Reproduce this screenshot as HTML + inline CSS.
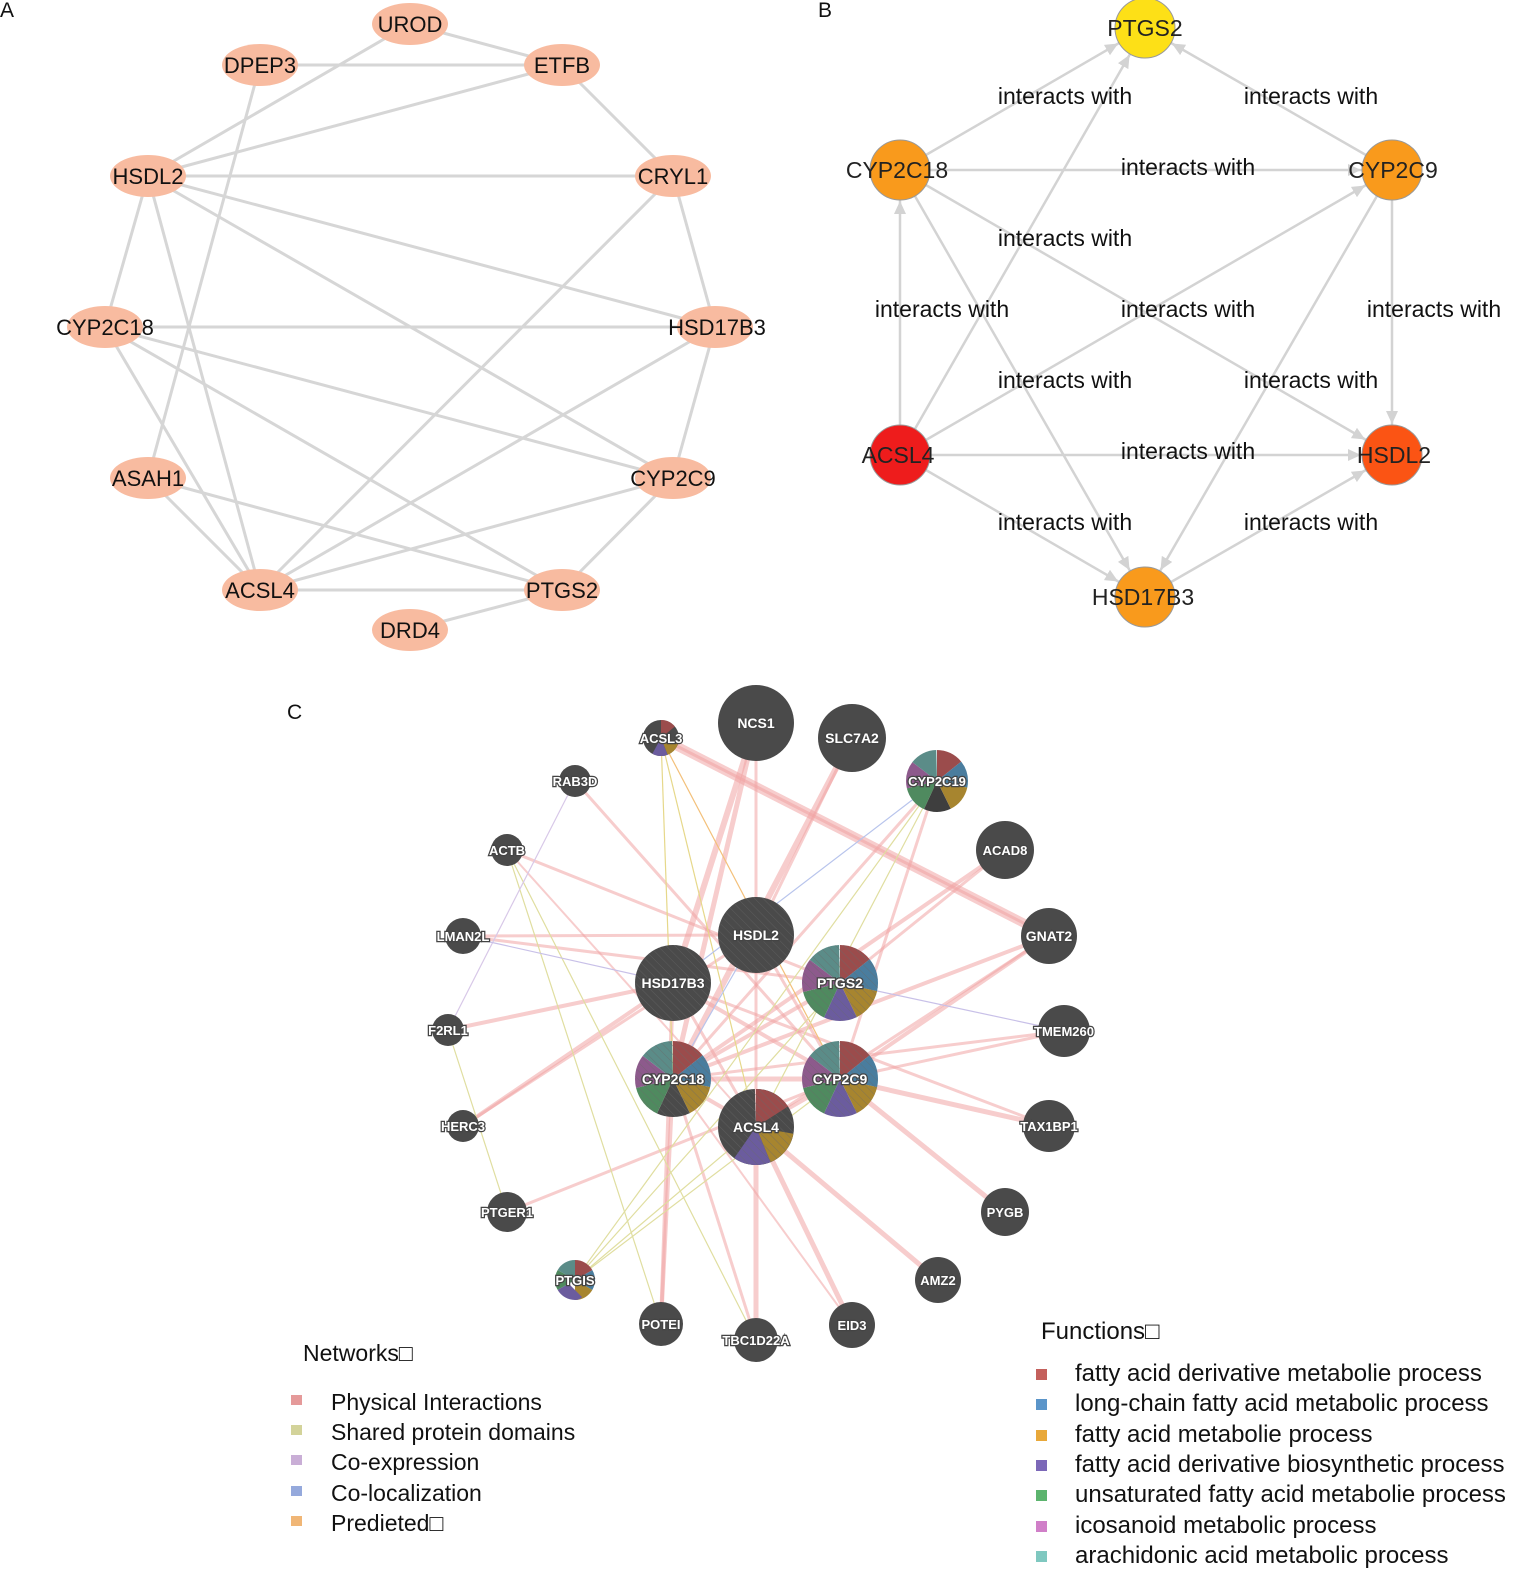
<!DOCTYPE html>
<html><head><meta charset="utf-8"><style>
html,body{margin:0;padding:0;background:#fff;}
svg{display:block;font-family:"Liberation Sans",Arial,sans-serif;}
.a text{font-size:22px;fill:#111;text-anchor:middle;}
.bl{font-size:23px;fill:#111;text-anchor:middle;}
.bn{font-size:23px;fill:#222;text-anchor:middle;}
.cn{font-size:13px;fill:#fff;text-anchor:middle;font-weight:bold;stroke:#444;stroke-width:2.5px;paint-order:stroke;}
.lg{font-size:23px;fill:#111;}
.fg{font-size:24px;fill:#111;}
</style></head><body>
<svg width="1535" height="1572" viewBox="0 0 1535 1572" xmlns="http://www.w3.org/2000/svg">
<defs>
<marker id="ar" markerUnits="userSpaceOnUse" markerWidth="60" markerHeight="14" refX="44" refY="6" orient="auto">
<path d="M0,0 L13,6 L0,12 z" fill="#d3d3d3"/></marker>
<pattern id="hat" width="6" height="6" patternUnits="userSpaceOnUse" patternTransform="rotate(-45)">
<line x1="0" y1="0" x2="0" y2="6" stroke="#6a6a6a" stroke-width="1"/></pattern>
</defs>
<rect width="1535" height="1572" fill="#fff"/>

<!-- PANEL A -->
<text x="0" y="17" font-size="21" fill="#111">A</text>
<g stroke="#d6d6d6" stroke-width="3">
<line x1="410" y1="24" x2="562" y2="65"/>
<line x1="410" y1="24" x2="148" y2="176"/>
<line x1="260" y1="65" x2="562" y2="65"/>
<line x1="260" y1="65" x2="148" y2="478"/>
<line x1="562" y1="65" x2="148" y2="176"/>
<line x1="562" y1="65" x2="673" y2="176"/>
<line x1="148" y1="176" x2="673" y2="176"/>
<line x1="148" y1="176" x2="715" y2="327"/>
<line x1="148" y1="176" x2="673" y2="478"/>
<line x1="148" y1="176" x2="105" y2="327"/>
<line x1="148" y1="176" x2="260" y2="590"/>
<line x1="673" y1="176" x2="715" y2="327"/>
<line x1="673" y1="176" x2="260" y2="590"/>
<line x1="105" y1="327" x2="715" y2="327"/>
<line x1="105" y1="327" x2="673" y2="478"/>
<line x1="105" y1="327" x2="562" y2="590"/>
<line x1="105" y1="327" x2="260" y2="590"/>
<line x1="715" y1="327" x2="673" y2="478"/>
<line x1="715" y1="327" x2="260" y2="590"/>
<line x1="148" y1="478" x2="260" y2="590"/>
<line x1="148" y1="478" x2="562" y2="590"/>
<line x1="673" y1="478" x2="260" y2="590"/>
<line x1="673" y1="478" x2="562" y2="590"/>
<line x1="260" y1="590" x2="562" y2="590"/>
<line x1="562" y1="590" x2="410" y2="630"/>
</g>
<g fill="#f8bba0">
<ellipse cx="410" cy="24" rx="38" ry="21"/><ellipse cx="260" cy="65" rx="38" ry="21"/>
<ellipse cx="562" cy="65" rx="38" ry="21"/><ellipse cx="148" cy="176" rx="38" ry="21"/>
<ellipse cx="673" cy="176" rx="38" ry="21"/><ellipse cx="105" cy="327" rx="38" ry="21"/>
<ellipse cx="715" cy="327" rx="38" ry="21"/><ellipse cx="148" cy="478" rx="38" ry="21"/>
<ellipse cx="673" cy="478" rx="38" ry="21"/><ellipse cx="260" cy="590" rx="38" ry="21"/>
<ellipse cx="562" cy="590" rx="38" ry="21"/><ellipse cx="410" cy="630" rx="38" ry="21"/>
</g>
<g class="a">
<text x="410" y="32">UROD</text><text x="260" y="73">DPEP3</text><text x="562" y="73">ETFB</text>
<text x="148" y="184">HSDL2</text><text x="673" y="184">CRYL1</text><text x="105" y="335">CYP2C18</text>
<text x="717" y="335">HSD17B3</text><text x="148" y="486">ASAH1</text><text x="673" y="486">CYP2C9</text>
<text x="260" y="598">ACSL4</text><text x="562" y="598">PTGS2</text><text x="410" y="638">DRD4</text>
</g>

<!-- PANEL B -->
<text x="818" y="17" font-size="21" fill="#111">B</text>
<g stroke="#d3d3d3" stroke-width="2.5" marker-end="url(#ar)">
<line x1="900" y1="170" x2="1145" y2="28"/>
<line x1="900" y1="455" x2="1145" y2="28"/>
<line x1="1392" y1="170" x2="1145" y2="28"/>
<line x1="900" y1="170" x2="1392" y2="170"/>
<line x1="900" y1="170" x2="1392" y2="455"/>
<line x1="900" y1="170" x2="1145" y2="597"/>
<line x1="900" y1="455" x2="900" y2="170"/>
<line x1="900" y1="455" x2="1392" y2="170"/>
<line x1="900" y1="455" x2="1392" y2="455"/>
<line x1="900" y1="455" x2="1145" y2="597"/>
<line x1="1392" y1="170" x2="1392" y2="455"/>
<line x1="1392" y1="170" x2="1145" y2="597"/>
<line x1="1145" y1="597" x2="1392" y2="455"/>
</g>
<g class="bl">
<text x="1065" y="104">interacts with</text><text x="1311" y="104">interacts with</text>
<text x="1188" y="175">interacts with</text><text x="1065" y="246">interacts with</text>
<text x="942" y="317">interacts with</text><text x="1188" y="317">interacts with</text>
<text x="1434" y="317">interacts with</text><text x="1065" y="388">interacts with</text>
<text x="1311" y="388">interacts with</text><text x="1188" y="459">interacts with</text>
<text x="1065" y="530">interacts with</text><text x="1311" y="530">interacts with</text>
</g>
<g stroke="#999" stroke-width="1">
<circle cx="1145" cy="28" r="30" fill="#fde017"/>
<circle cx="900" cy="170" r="30" fill="#f99a1c"/>
<circle cx="1392" cy="170" r="30" fill="#f99a1c"/>
<circle cx="900" cy="455" r="30" fill="#ee1c1c"/>
<circle cx="1392" cy="455" r="30" fill="#fb5414"/>
<circle cx="1145" cy="597" r="30" fill="#f99a1c"/>
</g>
<g class="bn">
<text x="1145" y="36">PTGS2</text><text x="897" y="178">CYP2C18</text><text x="1393" y="178">CYP2C9</text>
<text x="898" y="463">ACSL4</text><text x="1394" y="463">HSDL2</text><text x="1143" y="605">HSD17B3</text>
</g>

<!-- PANEL C -->
<text x="287" y="719" font-size="21" fill="#111">C</text>
<!-- edges -->
<g stroke="#f0a4a4" stroke-opacity="0.55" fill="none">
<line x1="661" y1="738" x2="1049" y2="936" stroke-width="9"/>
<line x1="661" y1="738" x2="1049" y2="936" stroke-width="3"/>
<line x1="756" y1="723" x2="673" y2="983" stroke-width="6"/>
<line x1="756" y1="723" x2="673" y2="1079" stroke-width="5"/>
<line x1="756" y1="723" x2="756" y2="1127" stroke-width="3"/>
<line x1="852" y1="738" x2="673" y2="1079" stroke-width="6"/>
<line x1="852" y1="738" x2="756" y2="935" stroke-width="3"/>
<line x1="1005" y1="850" x2="673" y2="1079" stroke-width="4"/>
<line x1="1005" y1="850" x2="840" y2="983" stroke-width="3"/>
<line x1="1049" y1="936" x2="673" y2="1079" stroke-width="4"/>
<line x1="1049" y1="936" x2="840" y2="1079" stroke-width="4"/>
<line x1="1049" y1="936" x2="756" y2="1127" stroke-width="3"/>
<line x1="575" y1="781" x2="840" y2="1079" stroke-width="3"/>
<line x1="507" y1="850" x2="840" y2="983" stroke-width="3"/>
<line x1="507" y1="850" x2="756" y2="1127" stroke-width="2"/>
<line x1="463" y1="936" x2="756" y2="935" stroke-width="3"/>
<line x1="463" y1="936" x2="840" y2="983" stroke-width="3"/>
<line x1="448" y1="1030" x2="673" y2="983" stroke-width="4"/>
<line x1="463" y1="1126" x2="673" y2="983" stroke-width="4"/>
<line x1="463" y1="1126" x2="756" y2="935" stroke-width="3"/>
<line x1="507" y1="1212" x2="840" y2="1079" stroke-width="3"/>
<line x1="661" y1="1324" x2="673" y2="983" stroke-width="4"/>
<line x1="661" y1="1324" x2="673" y2="1079" stroke-width="4"/>
<line x1="756" y1="1340" x2="756" y2="1127" stroke-width="5"/>
<line x1="756" y1="1340" x2="673" y2="1079" stroke-width="3"/>
<line x1="852" y1="1325" x2="756" y2="1127" stroke-width="5"/>
<line x1="852" y1="1325" x2="673" y2="1079" stroke-width="2"/>
<line x1="938" y1="1280" x2="756" y2="1127" stroke-width="5"/>
<line x1="1005" y1="1212" x2="840" y2="1079" stroke-width="5"/>
<line x1="1049" y1="1126" x2="840" y2="1079" stroke-width="5"/>
<line x1="1049" y1="1126" x2="673" y2="983" stroke-width="3"/>
<line x1="1064" y1="1031" x2="673" y2="1079" stroke-width="3"/>
<line x1="1064" y1="1031" x2="840" y2="1079" stroke-width="3"/>
<line x1="673" y1="983" x2="840" y2="1079" stroke-width="4"/>
<line x1="673" y1="1079" x2="840" y2="1079" stroke-width="5"/>
<line x1="673" y1="1079" x2="840" y2="983" stroke-width="4"/>
<line x1="673" y1="983" x2="756" y2="1127" stroke-width="3"/>
<line x1="756" y1="935" x2="840" y2="1079" stroke-width="3"/>
<line x1="673" y1="1079" x2="756" y2="1127" stroke-width="4"/>
<line x1="840" y1="1079" x2="756" y2="1127" stroke-width="4"/>
<line x1="937" y1="781" x2="673" y2="1079" stroke-width="3"/>
<line x1="937" y1="781" x2="840" y2="1079" stroke-width="3"/>
</g>
<g stroke-width="1.2" fill="none">
<line x1="661" y1="738" x2="756" y2="1127" stroke="#e6d88a"/>
<line x1="661" y1="738" x2="673" y2="1079" stroke="#e6d88a"/>
<line x1="661" y1="738" x2="840" y2="1079" stroke="#f3c07a"/>
<line x1="507" y1="850" x2="661" y2="1324" stroke="#e0dea0"/>
<line x1="507" y1="850" x2="756" y2="1340" stroke="#e0dea0"/>
<line x1="575" y1="781" x2="448" y2="1030" stroke="#d8c8e8"/>
<line x1="448" y1="1030" x2="507" y2="1212" stroke="#e0dea0"/>
<line x1="575" y1="1280" x2="937" y2="781" stroke="#e0dea0"/>
<line x1="575" y1="1280" x2="840" y2="1079" stroke="#e0dea0"/>
<line x1="575" y1="1280" x2="840" y2="983" stroke="#e0dea0"/>
<line x1="575" y1="1280" x2="756" y2="1127" stroke="#e0dea0"/>
<line x1="937" y1="781" x2="673" y2="983" stroke="#b8c4ec"/>
<line x1="937" y1="781" x2="756" y2="1127" stroke="#e0dea0"/>
<line x1="1064" y1="1031" x2="840" y2="983" stroke="#c8c0e8"/>
<line x1="463" y1="936" x2="673" y2="983" stroke="#c8c0e8"/>
<line x1="756" y1="935" x2="673" y2="1079" stroke="#b8c4ec"/>
</g>
<!-- nodes -->
<g fill="#4a4a4a">
<circle cx="756" cy="723" r="38"/><circle cx="852" cy="738" r="34"/>
<circle cx="575" cy="781" r="16"/><circle cx="507" cy="850" r="16"/>
<circle cx="1005" cy="850" r="29"/><circle cx="463" cy="936" r="18"/>
<circle cx="1049" cy="936" r="28"/><circle cx="448" cy="1030" r="16"/>
<circle cx="1064" cy="1031" r="26"/><circle cx="463" cy="1126" r="16"/>
<circle cx="1049" cy="1126" r="26"/><circle cx="507" cy="1212" r="20"/>
<circle cx="1005" cy="1212" r="24"/><circle cx="938" cy="1280" r="23"/>
<circle cx="661" cy="1324" r="22"/><circle cx="756" cy="1340" r="22"/>
<circle cx="852" cy="1325" r="23"/>
<circle cx="756" cy="935" r="38"/><circle cx="673" cy="983" r="38"/>
</g>
<!-- pies: circle r=R/2, stroke-width=R, pathLength 100 -->
<!-- PTGS2 -->
<g transform="translate(840,983) rotate(-90)" fill="none" stroke-width="38">
<circle r="19" pathLength="100" stroke="#9b4c4c" stroke-dasharray="14.3 100" stroke-dashoffset="0"/>
<circle r="19" pathLength="100" stroke="#4a7d9e" stroke-dasharray="14.3 100" stroke-dashoffset="-14.3"/>
<circle r="19" pathLength="100" stroke="#a7852f" stroke-dasharray="14.3 100" stroke-dashoffset="-28.6"/>
<circle r="19" pathLength="100" stroke="#6b5c9e" stroke-dasharray="14.3 100" stroke-dashoffset="-42.9"/>
<circle r="19" pathLength="100" stroke="#4f8a5f" stroke-dasharray="14.3 100" stroke-dashoffset="-57.2"/>
<circle r="19" pathLength="100" stroke="#8d5a8c" stroke-dasharray="14.3 100" stroke-dashoffset="-71.5"/>
<circle r="19" pathLength="100" stroke="#5b8c88" stroke-dasharray="14.3 100" stroke-dashoffset="-85.8"/>
</g>
<!-- CYP2C9 -->
<g transform="translate(840,1079) rotate(-90)" fill="none" stroke-width="38">
<circle r="19" pathLength="100" stroke="#9b4c4c" stroke-dasharray="14.3 100" stroke-dashoffset="0"/>
<circle r="19" pathLength="100" stroke="#4a7d9e" stroke-dasharray="14.3 100" stroke-dashoffset="-14.3"/>
<circle r="19" pathLength="100" stroke="#a7852f" stroke-dasharray="14.3 100" stroke-dashoffset="-28.6"/>
<circle r="19" pathLength="100" stroke="#6b5c9e" stroke-dasharray="14.3 100" stroke-dashoffset="-42.9"/>
<circle r="19" pathLength="100" stroke="#4f8a5f" stroke-dasharray="14.3 100" stroke-dashoffset="-57.2"/>
<circle r="19" pathLength="100" stroke="#8d5a8c" stroke-dasharray="14.3 100" stroke-dashoffset="-71.5"/>
<circle r="19" pathLength="100" stroke="#5b8c88" stroke-dasharray="14.3 100" stroke-dashoffset="-85.8"/>
</g>
<!-- CYP2C18 -->
<g transform="translate(673,1079) rotate(-90)" fill="none" stroke-width="38">
<circle r="19" pathLength="100" stroke="#9b4c4c" stroke-dasharray="14.3 100" stroke-dashoffset="0"/>
<circle r="19" pathLength="100" stroke="#4a7d9e" stroke-dasharray="14.3 100" stroke-dashoffset="-14.3"/>
<circle r="19" pathLength="100" stroke="#a7852f" stroke-dasharray="14.3 100" stroke-dashoffset="-28.6"/>
<circle r="19" pathLength="100" stroke="#4a4a4a" stroke-dasharray="14.3 100" stroke-dashoffset="-42.9"/>
<circle r="19" pathLength="100" stroke="#4f8a5f" stroke-dasharray="14.3 100" stroke-dashoffset="-57.2"/>
<circle r="19" pathLength="100" stroke="#8d5a8c" stroke-dasharray="14.3 100" stroke-dashoffset="-71.5"/>
<circle r="19" pathLength="100" stroke="#5b8c88" stroke-dasharray="14.3 100" stroke-dashoffset="-85.8"/>
</g>
<!-- ACSL4 -->
<g transform="translate(756,1127) rotate(-90)" fill="none" stroke-width="38">
<circle r="19" pathLength="100" stroke="#4a4a4a" stroke-dasharray="100 100"/>
<circle r="19" pathLength="100" stroke="#9b4c4c" stroke-dasharray="16 100" stroke-dashoffset="0"/>
<circle r="19" pathLength="100" stroke="#a7852f" stroke-dasharray="16 100" stroke-dashoffset="-28"/>
<circle r="19" pathLength="100" stroke="#6b5c9e" stroke-dasharray="16 100" stroke-dashoffset="-44"/>
</g>
<!-- CYP2C19 -->
<g transform="translate(937,781) rotate(-90)" fill="none" stroke-width="31">
<circle r="15.5" pathLength="100" stroke="#9b4c4c" stroke-dasharray="14.3 100" stroke-dashoffset="0"/>
<circle r="15.5" pathLength="100" stroke="#4a7d9e" stroke-dasharray="14.3 100" stroke-dashoffset="-14.3"/>
<circle r="15.5" pathLength="100" stroke="#a7852f" stroke-dasharray="14.3 100" stroke-dashoffset="-28.6"/>
<circle r="15.5" pathLength="100" stroke="#3e3e3e" stroke-dasharray="14.3 100" stroke-dashoffset="-42.9"/>
<circle r="15.5" pathLength="100" stroke="#4f8a5f" stroke-dasharray="14.3 100" stroke-dashoffset="-57.2"/>
<circle r="15.5" pathLength="100" stroke="#8d5a8c" stroke-dasharray="14.3 100" stroke-dashoffset="-71.5"/>
<circle r="15.5" pathLength="100" stroke="#5b8c88" stroke-dasharray="14.3 100" stroke-dashoffset="-85.8"/>
</g>
<!-- ACSL3 -->
<g transform="translate(661,738) rotate(-90)" fill="none" stroke-width="18">
<circle r="9" pathLength="100" stroke="#4a4a4a" stroke-dasharray="100 100"/>
<circle r="9" pathLength="100" stroke="#9b4c4c" stroke-dasharray="14 100"/>
<circle r="9" pathLength="100" stroke="#a7852f" stroke-dasharray="14 100" stroke-dashoffset="-30"/>
<circle r="9" pathLength="100" stroke="#6b5c9e" stroke-dasharray="14 100" stroke-dashoffset="-44"/>
</g>
<!-- PTGIS -->
<g transform="translate(575,1280) rotate(-90)" fill="none" stroke-width="20">
<circle r="10" pathLength="100" stroke="#9b4c4c" stroke-dasharray="16.7 100" stroke-dashoffset="0"/>
<circle r="10" pathLength="100" stroke="#4a7d9e" stroke-dasharray="16.7 100" stroke-dashoffset="-16.7"/>
<circle r="10" pathLength="100" stroke="#a7852f" stroke-dasharray="16.7 100" stroke-dashoffset="-33.4"/>
<circle r="10" pathLength="100" stroke="#6b5c9e" stroke-dasharray="16.7 100" stroke-dashoffset="-50"/>
<circle r="10" pathLength="100" stroke="#4f8a5f" stroke-dasharray="16.7 100" stroke-dashoffset="-66.7"/>
<circle r="10" pathLength="100" stroke="#5b8c88" stroke-dasharray="16.7 100" stroke-dashoffset="-83.4"/>
</g>
<!-- hatch overlay -->
<g fill="url(#hat)" opacity="0.6">
<circle cx="756" cy="935" r="38"/><circle cx="673" cy="983" r="38"/>
<circle cx="840" cy="983" r="38"/><circle cx="840" cy="1079" r="38"/>
<circle cx="673" cy="1079" r="38"/><circle cx="756" cy="1127" r="38"/>
</g>
<g class="cn">
<text x="661" y="743">ACSL3</text>
<text x="756" y="728" style="font-size:14px">NCS1</text>
<text x="852" y="743" style="font-size:14px">SLC7A2</text>
<text x="575" y="786">RAB3D</text>
<text x="937" y="786">CYP2C19</text>
<text x="507" y="855">ACTB</text>
<text x="1005" y="855">ACAD8</text>
<text x="463" y="941">LMAN2L</text>
<text x="756" y="940" style="font-size:14px">HSDL2</text>
<text x="1049" y="941" style="font-size:14px">GNAT2</text>
<text x="673" y="988" style="font-size:14px">HSD17B3</text>
<text x="840" y="988" style="font-size:14px">PTGS2</text>
<text x="448" y="1035">F2RL1</text>
<text x="1064" y="1036">TMEM260</text>
<text x="673" y="1084" style="font-size:14px">CYP2C18</text>
<text x="840" y="1084" style="font-size:14px">CYP2C9</text>
<text x="756" y="1132" style="font-size:14px">ACSL4</text>
<text x="463" y="1131">HERC3</text>
<text x="1049" y="1131">TAX1BP1</text>
<text x="507" y="1217">PTGER1</text>
<text x="1005" y="1217">PYGB</text>
<text x="575" y="1285">PTGIS</text>
<text x="938" y="1285">AMZ2</text>
<text x="661" y="1329">POTEI</text>
<text x="756" y="1345">TBC1D22A</text>
<text x="852" y="1330">EID3</text>
</g>

<!-- Legends -->
<text class="lg" x="303" y="1361">Networks□</text>
<rect x="291" y="1395" width="11" height="10" fill="#e59a9a"/>
<rect x="291" y="1425" width="11" height="10" fill="#d3d39a"/>
<rect x="291" y="1455" width="11" height="10" fill="#c9aed6"/>
<rect x="291" y="1486" width="11" height="10" fill="#95a9dc"/>
<rect x="291" y="1516" width="11" height="10" fill="#f0b676"/>
<text class="lg" x="331" y="1410">Physical Interactions</text>
<text class="lg" x="331" y="1440">Shared protein domains</text>
<text class="lg" x="331" y="1470">Co-expression</text>
<text class="lg" x="331" y="1501">Co-localization</text>
<text class="lg" x="331" y="1531">Predieted□</text>

<text class="fg" x="1041" y="1339">Functions□</text>
<rect x="1036" y="1369" width="11" height="11" fill="#c4605c"/>
<rect x="1036" y="1399" width="11" height="11" fill="#5b95c9"/>
<rect x="1036" y="1430" width="11" height="11" fill="#e8a83a"/>
<rect x="1036" y="1460" width="11" height="11" fill="#7c68b8"/>
<rect x="1036" y="1490" width="11" height="11" fill="#5cb46e"/>
<rect x="1036" y="1521" width="11" height="11" fill="#d07fc8"/>
<rect x="1036" y="1551" width="11" height="11" fill="#7fc8c0"/>
<text class="fg" x="1075" y="1381">fatty acid derivative metabolie process</text>
<text class="fg" x="1075" y="1411">long-chain fatty acid metabolic process</text>
<text class="fg" x="1075" y="1442">fatty acid metabolie process</text>
<text class="fg" x="1075" y="1472">fatty acid derivative biosynthetic process</text>
<text class="fg" x="1075" y="1502">unsaturated fatty acid metabolie process</text>
<text class="fg" x="1075" y="1533">icosanoid metabolic process</text>
<text class="fg" x="1075" y="1563">arachidonic acid metabolic process</text>
</svg>
</body></html>
